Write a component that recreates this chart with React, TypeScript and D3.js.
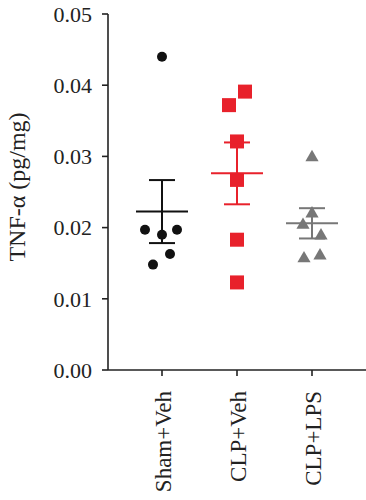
import React from "react";
import * as d3 from "d3";

const categories = ["Sham+Veh", "CLP+Veh", "CLP+LPS"];
const shamVeh = [0.0440, 0.0197, 0.0190, 0.0197, 0.0163, 0.0148];
const clpVeh = [0.0391, 0.0372, 0.0321, 0.0267, 0.0183, 0.0123];
const clpLps = [0.0300, 0.0221, 0.0205, 0.0190, 0.0158, 0.0162];
const yTicks = [0, 0.01, 0.02, 0.03, 0.04, 0.05];
const yLabel = "TNF-α (pg/mg)";

const jitter = [
  [0, -17, 0, 15, 8, -9],
  [8, -8, 0, 0, 0, 0],
  [0, 0, -9, 9, -8, 8],
];
const colors = ["#111111", "#e8212b", "#777777"];
const FONT = "'Liberation Serif', 'Times New Roman', serif";

export default function App() {
  const W = 366, H = 500;
  const left = 108, top = 14, bottom = 370;
  const y = d3.scaleLinear().domain([0, 0.05]).range([bottom, top]);
  const x = d3.scalePoint<string>().domain(categories).range([162, 312]);
  const series = [shamVeh, clpVeh, clpLps];

  const marker = (gi: number, cx: number, cy: number, key: string) => {
    const c = colors[gi];
    if (gi === 0) return <circle key={key} cx={cx} cy={cy} r={5} fill={c} />;
    if (gi === 1) return <rect key={key} x={cx - 7} y={cy - 7} width={14} height={14} fill={c} />;
    const tri = d3.symbol().type(d3.symbolTriangle).size(75)();
    return <path key={key} d={tri || ""} transform={`translate(${cx},${cy + 1})`} fill={c} />;
  };

  return (
    <svg width={W} height={H} style={{ position: "absolute", left: 0, top: 0 }}>
      <rect width={W} height={H} fill="#fff" />
      {/* y axis */}
      <line x1={left} x2={left} y1={top} y2={bottom} stroke="#222" strokeWidth={1.6} />
      {yTicks.map((t) => (
        <g key={t}>
          <line x1={left - 6} x2={left} y1={y(t)} y2={y(t)} stroke="#222" strokeWidth={1.6} />
          <text x={left - 16} y={y(t)} dy="0.35em" textAnchor="end" fontFamily={FONT} fontSize={22} fill="#222">
            {t.toFixed(2)}
          </text>
        </g>
      ))}
      <text transform={`translate(17,187) rotate(-90)`} textAnchor="middle" dy="0.35em" fontFamily={FONT} fontSize={24} fill="#222">
        {yLabel}
      </text>
      {/* x axis */}
      <line x1={left} x2={W} y1={bottom} y2={bottom} stroke="#222" strokeWidth={1.6} />
      {categories.map((c) => (
        <g key={c}>
          <line x1={x(c)} x2={x(c)} y1={bottom} y2={bottom + 6} stroke="#222" strokeWidth={1.6} />
          <text transform={`translate(${(x(c) as number) + 1},${bottom + 21}) rotate(-90)`} textAnchor="end" dy="0.35em" fontFamily={FONT} fontSize={23} fill="#222">
            {c}
          </text>
        </g>
      ))}
      {/* data */}
      {series.map((vals, gi) => {
        const cx = x(categories[gi]) as number;
        const m = d3.mean(vals) as number;
        const sem = (d3.deviation(vals) as number) / Math.sqrt(vals.length);
        const col = colors[gi];
        return (
          <g key={gi}>
            {vals.map((v, i) => marker(gi, cx + jitter[gi][i], y(v), `${gi}-${i}`))}
            <line x1={cx} x2={cx} y1={y(m + sem)} y2={y(m - sem)} stroke={col} strokeWidth={2} />
            <line x1={cx - 13} x2={cx + 13} y1={y(m + sem)} y2={y(m + sem)} stroke={col} strokeWidth={2} />
            <line x1={cx - 13} x2={cx + 13} y1={y(m - sem)} y2={y(m - sem)} stroke={col} strokeWidth={2} />
            <line x1={cx - 26} x2={cx + 26} y1={y(m)} y2={y(m)} stroke={col} strokeWidth={2} />
          </g>
        );
      })}
    </svg>
  );
}
